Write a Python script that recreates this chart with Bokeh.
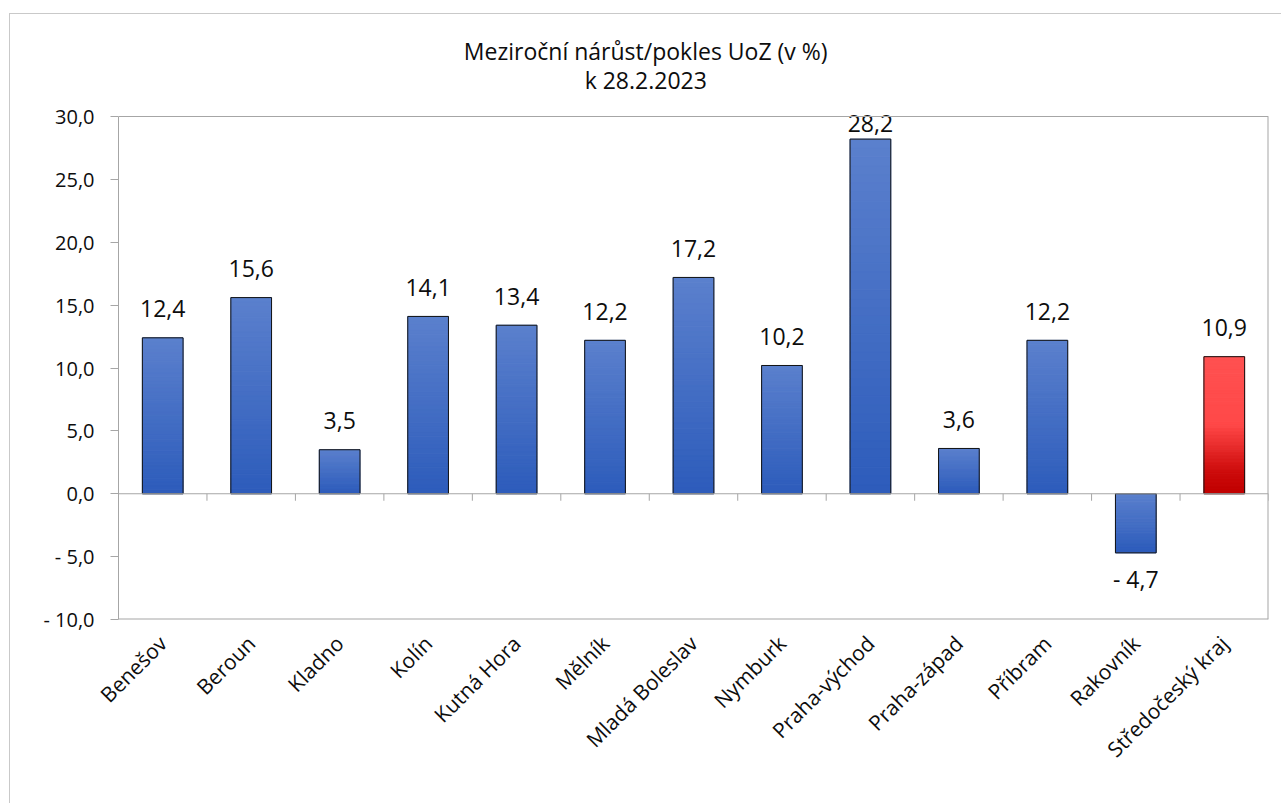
from bokeh.plotting import figure
from bokeh.models import Range1d, FixedTicker, Span, ColumnDataSource
from bokeh.core.properties import value
from bokeh.embed import file_html
from bokeh.resources import INLINE
import math

# ---- data ----
categories = ["Benešov", "Beroun", "Kladno", "Kolín", "Kutná Hora", "Mělník",
              "Mladá Boleslav", "Nymburk", "Praha-východ", "Praha-západ",
              "Příbram", "Rakovník", "Středočeský kraj"]
values = [12.4, 15.6, 3.5, 14.1, 13.4, 12.2, 17.2, 10.2, 28.2, 3.6, 12.2, -4.7, 10.9]
highlight = ["Středočeský kraj"]
y_ticks = [-10, -5, 0, 5, 10, 15, 20, 25, 30]
title_lines = ["Meziroční nárůst/pokles UoZ (v %)", "k 28.2.2023"]

FONT = "Open Sans"
TXT = "#0d0d0d"
GRID = "#a6a6a6"


def fmt(v):
    s = f"{abs(v):.1f}".replace(".", ",")
    return ("- " + s) if v < 0 else s


W, H = 1272, 790
ML, MR, MB = 108, 14, 185
PLOT_TOP = 102            # pixels from canvas top to the 30,0 line
y_lo, y_hi = -10, 30
frame_h = H - MB
ppu = (frame_h - PLOT_TOP) / (y_hi - y_lo)
y_top = y_hi + PLOT_TOP / ppu   # frame extends up over the title area
n = len(categories)

p = figure(width=W, height=H, output_backend="svg", toolbar_location=None,
           x_range=Range1d(0, n), y_range=Range1d(y_lo, y_top),
           min_border_left=ML, min_border_top=0, min_border_right=MR,
           min_border_bottom=MB, background_fill_color="white",
           border_fill_color="white")
p.styles = {"border-left": "1px solid #c9c9c9", "border-top": "1px solid #c9c9c9",
            "margin-left": "9px", "margin-top": "13px"}
p.grid.visible = False
p.outline_line_color = None

# ---- plot-area box ----
p.add_layout(Span(location=y_hi, dimension="width", line_color=GRID, line_width=1))
p.add_layout(Span(location=y_lo, dimension="width", line_color=GRID, line_width=2))
p.segment(x0=[n], y0=[y_lo], x1=[n], y1=[y_hi], line_color=GRID, line_width=2)

# ---- gradient bars ----
def lerp_color(stops, t):
    for (t0, c0), (t1, c1) in zip(stops[:-1], stops[1:]):
        if t0 <= t <= t1:
            f = 0 if t1 == t0 else (t - t0) / (t1 - t0)
            a = [int(c0[i:i + 2], 16) for i in (1, 3, 5)]
            b = [int(c1[i:i + 2], 16) for i in (1, 3, 5)]
            return "#%02x%02x%02x" % tuple(round(a[k] + (b[k] - a[k]) * f) for k in range(3))
    return stops[-1][1]

blue_stops = [(0.0, "#5b80cd"), (1.0, "#2d5cbb")]
red_stops = [(0.0, "#ff5151"), (0.5, "#ff4848"), (0.85, "#cc0a0a"), (1.0, "#c00000")]

N = 40
xs, bots, tops, cols = [], [], [], []
for i, (c, v) in enumerate(zip(categories, values)):
    lo, hi = min(0, v), max(0, v)
    stops = red_stops if c in highlight else blue_stops
    for k in range(N):
        t = (k + 0.5) / N  # 0 = top of bar
        top = hi - (hi - lo) * k / N
        bot = hi - (hi - lo) * (k + 1) / N
        xs.append(i + 0.5)
        bots.append(bot)
        tops.append(top)
        cols.append(lerp_color(stops, t))

BW = 0.46
p.vbar(x=xs, bottom=bots, top=tops, width=BW, fill_color=cols, line_color=cols,
       line_width=1)

src = ColumnDataSource(dict(
    x=[i + 0.5 for i in range(n)],
    top=[max(0, v) for v in values],
    bottom=[min(0, v) for v in values],
))
p.vbar(x="x", top="top", bottom="bottom", width=BW, source=src,
       fill_color=None, line_color="#141414", line_width=1)

# ---- zero line and category boundary ticks ----
p.add_layout(Span(location=0, dimension="width", line_color=GRID, line_width=1.2))
tick_len = 7 / ppu
bounds = list(range(1, n + 1))
p.segment(x0=bounds, y0=[0] * len(bounds), x1=bounds, y1=[-tick_len] * len(bounds),
          line_color=GRID, line_width=1)

# ---- data labels (text y_offset: positive = down) ----
offs = []
for v in values:
    if v >= 0:
        offs.append(-(min(19, (y_hi - v) * ppu - 17) + 10))
    else:
        offs.append(26)
lab = ColumnDataSource(dict(
    x=[i + 0.5 for i in range(n)],
    y=values,
    t=[fmt(v) for v in values],
    off=offs,
))
p.text(x="x", y="y", text="t", y_offset="off", source=lab,
       text_font=value(FONT), text_font_size="23px", text_color=TXT,
       text_align="center", text_baseline="alphabetic")

# ---- title (two lines above the 30,0 line) ----
ttl = ColumnDataSource(dict(
    x=[5.96, 5.96],
    y=[y_hi, y_hi],
    t=title_lines,
    off=[-(PLOT_TOP - 36.7), -(PLOT_TOP - 65)],
))
p.text(x="x", y="y", text="t", y_offset="off", source=ttl,
       text_font=value(FONT), text_font_size="23px", text_color=TXT,
       text_align="center", text_baseline="alphabetic")

# ---- axes ----
ya = p.yaxis[0]
ya.ticker = FixedTicker(ticks=y_ticks)
ya.bounds = (y_lo, y_hi)
ya.major_label_overrides = {t: fmt(t) for t in y_ticks}
ya.major_tick_out = 8
ya.major_tick_in = 0
ya.minor_tick_line_color = None
ya.axis_line_color = GRID
ya.major_tick_line_color = GRID
ya.major_label_text_font = FONT
ya.major_label_text_font_size = "20px"
ya.major_label_text_color = TXT
ya.major_label_standoff = 16

xa = p.xaxis[0]
centers = [i + 0.5 for i in range(n)]
xa.ticker = FixedTicker(ticks=centers)
xa.major_label_overrides = {c: name for c, name in zip(centers, categories)}
xa.major_label_orientation = math.pi / 4
xa.major_tick_line_color = None
xa.minor_tick_line_color = None
xa.axis_line_color = None
xa.major_label_text_font = FONT
xa.major_label_text_font_size = "21px"
xa.major_label_text_color = TXT
xa.major_label_standoff = 14

open("out.html", "w").write(file_html(p, INLINE))
